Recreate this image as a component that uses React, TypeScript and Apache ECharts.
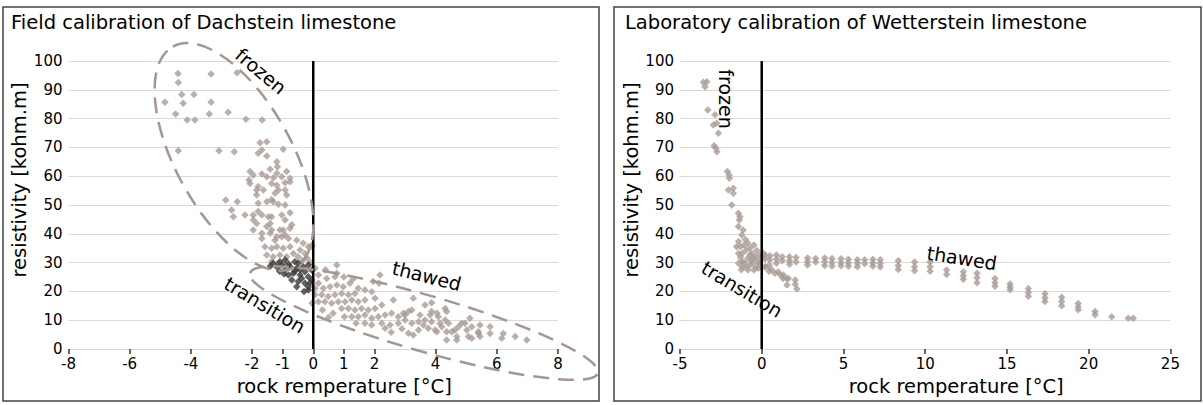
import React, { useEffect, useRef } from "react";
import * as echarts from "echarts";

// ---------- texts ----------
const panelTitles = [
  "Field calibration of Dachstein limestone",
  "Laboratory calibration of Wetterstein limestone",
];
const xAxisName = "rock remperature [°C]";
const yAxisName = "resistivity [kohm.m]";

// ---------- axes ----------
const dachsteinXTicks = [-8, -6, -4, -2, -1, 0, 1, 2, 4, 6, 8];
const dachsteinXRange = [-8, 8];
const wettersteinXRange = [-5, 25];
const wettersteinXStep = 5;
const resistivityRange = [0, 100];
const resistivityStep = 10;
const zeroLine = [
  [0, 0],
  [0, 100],
];

// ---------- Dachstein (field) ----------
const dachsteinFrozen = [
  [-4.42, 95.7], [-3.34, 95.5], [-2.49, 95.9], [-4.41, 92.5], [-4.3, 88.4], [-3.9, 88.4],
  [-4.85, 85.7], [-4.25, 85.3], [-3.34, 85.7], [-4.5, 81.6], [-3.4, 81.6], [-2.78, 82.2],
  [-4.12, 79.5], [-3.87, 79.5], [-2.2, 79.8], [-1.67, 79.5], [-4.41, 68.8], [-3.08, 68.8],
  [-2.58, 68.5], [-0.98, 69.4],
  [-1.74, 71.6], [-1.52, 72.0], [-1.68, 69.1], [-1.8, 68.0], [-1.52, 67.0], [-1.19, 65.0], [-1.17, 63.3],
  [-2.07, 61.6], [-1.96, 60.4], [-1.68, 60.8], [-1.41, 62.4], [-1.19, 61.0], [-0.87, 61.6], [-2.1, 58.7],
  [-0.76, 59.3], [-1.03, 59.8], [-1.52, 59.8], [-1.3, 59.5],
  [-1.8, 56.4], [-1.63, 55.2], [-1.19, 56.9], [-0.92, 57.7], [-2.07, 57.5], [-1.36, 57.5], [-0.76, 58.1],
  [-1.85, 55.2], [-1.14, 55.2], [-0.92, 55.2], [-1.25, 54.1], [-1.85, 53.5], [-0.87, 53.5],
  [-2.86, 51.7], [-2.48, 51.1], [-1.8, 50.6], [-1.52, 51.1], [-1.31, 51.1], [-1.14, 50.3], [-1.36, 51.9], [-0.92, 50.0],
  [-2.67, 48.3], [-1.8, 47.7], [-0.76, 47.3],
  [-2.61, 45.9], [-2.23, 46.5], [-1.96, 46.5], [-1.68, 46.5], [-1.47, 45.9], [-1.36, 45.9], [-1.03, 46.5],
  [-0.92, 44.8], [-1.96, 44.8], [-1.85, 43.6], [-1.41, 43.6], [-0.7, 43.1], [-1.52, 42.5],
  [-1.09, 41.3], [-1.96, 41.3], [-1.36, 41.3], [-0.98, 41.3], [-0.76, 41.9],
  [-1.68, 40.2], [-1.41, 40.2], [-1.19, 39.0], [-0.92, 39.6], [-1.03, 39.0],
  [-1.68, 38.4], [-1.25, 37.8], [-0.81, 38.4], [-0.54, 37.8],
  [-0.33, 36.7], [-0.16, 35.5], [-0.05, 35.5], [-0.04, 36.1],
  [-1.58, 35.5], [-1.36, 35.0], [-1.19, 35.5], [-0.98, 35.0], [-0.76, 35.5], [-0.43, 34.4],
  [-1.52, 32.6], [-1.31, 32.0], [-1.09, 32.6], [-0.87, 32.0], [-0.65, 33.2], [-0.27, 33.2], [-0.5, 32.0],
  [-1.36, 30.3], [-1.14, 29.8], [-0.92, 29.2], [-0.2, 31.5], [-0.1, 30.0], [-0.35, 30.8],
];
const dachsteinTransition = [
  [-1.19, 28.6], [-1.03, 29.2], [-0.92, 27.4], [-0.76, 28.6], [-0.65, 26.3], [-0.81, 25.7],
  [-0.54, 28.0], [-0.43, 25.7], [-0.33, 28.6], [-0.27, 26.8], [-0.16, 29.2], [-0.16, 25.1],
  [-0.7, 24.0], [-0.49, 23.4], [-0.27, 22.8], [-0.54, 21.6], [-0.16, 21.6], [-0.16, 20.5],
  [-0.38, 24.5], [-1.09, 30.3], [-0.92, 30.9], [-1.31, 29.8], [-0.05, 24.0], [-0.05, 27.4],
  [-0.6, 30.3], [-0.49, 29.8], [-1.1, 27.0], [-0.95, 26.0], [-0.3, 20.0], [-0.6, 27.0],
  [-0.1, 23.0], [-0.42, 27.5], [-0.8, 29.5], [-1.4, 28.8],
];
const dachsteinThawed = [
  [0.06, 28.0], [0.77, 29.2], [0.17, 25.7], [0.44, 24.5], [0.71, 25.1], [0.77, 26.3], [0.17, 22.8],
  [0.33, 21.1], [0.55, 21.6], [0.77, 22.2], [0.98, 21.6], [1.2, 22.8], [0.06, 21.1], [0.06, 18.8],
  [-0.04, 15.9], [0.28, 18.8], [0.49, 18.2], [0.71, 18.8], [0.93, 19.3], [1.15, 18.8], [1.36, 19.3],
  [1.47, 21.1], [1.69, 20.5], [1.91, 19.9], [0.17, 16.4], [0.38, 16.4], [0.6, 15.9], [0.82, 16.4],
  [1.04, 16.4], [1.26, 17.0], [1.47, 16.4], [1.69, 17.0], [2.02, 17.6], [2.24, 15.3], [2.62, 17.0],
  [1.96, 23.4], [2.18, 25.7], [2.15, 22.8], [0.93, 14.1], [1.15, 14.1], [1.36, 13.5], [1.58, 14.1],
  [1.8, 13.5], [2.02, 14.1], [0.65, 12.4], [1.02, 11.2], [1.26, 11.2], [1.47, 11.2], [1.69, 11.8],
  [1.91, 10.7], [2.13, 11.2], [2.35, 11.8], [2.56, 12.4], [2.78, 11.2], [3.0, 11.8], [3.27, 17.6],
  [3.65, 15.3], [3.87, 16.1], [3.87, 13.0], [3.22, 13.5], [1.4, 8.9], [1.69, 8.9], [1.91, 8.3],
  [2.24, 8.9], [2.51, 8.3], [2.35, 7.2], [2.78, 8.9], [3.0, 10.1], [3.22, 8.9], [3.44, 9.5],
  [3.65, 10.1], [3.87, 9.5], [4.09, 11.2], [4.31, 10.1], [3.44, 6.6], [3.76, 7.2], [3.98, 6.6],
  [3.11, 5.5], [3.27, 4.9], [4.2, 7.7], [4.53, 6.0], [4.75, 7.7], [4.96, 8.9], [5.18, 7.7],
  [5.4, 6.0], [4.69, 4.3], [5.07, 4.3], [2.95, 12.4], [3.11, 13.0], [3.49, 11.8], [3.82, 11.8],
  [4.04, 12.4], [4.31, 14.1], [4.36, 13.0], [3.6, 8.3], [4.14, 8.9], [4.42, 8.9], [4.85, 8.9],
  [5.12, 10.7], [5.45, 8.3], [5.78, 7.7], [4.04, 6.0], [4.36, 6.0], [4.63, 6.6], [5.02, 6.6],
  [5.4, 5.4], [5.78, 5.4], [4.36, 3.1], [4.69, 3.1], [5.18, 3.7], [5.45, 4.3], [6.21, 5.4],
  [6.16, 3.7], [6.6, 4.3], [6.98, 3.1], [0.4, 27.5], [1.0, 25.0], [1.3, 24.2], [0.3, 13.5],
  [0.5, 11.0], [2.55, 5.8], [2.9, 7.0],
];

// ---------- Wetterstein (laboratory) ----------
const wettersteinFrozen = [
  [-3.57, 92.6], [-3.36, 92.8], [-3.47, 91.1], [-3.3, 83.0], [-2.86, 81.3], [-2.96, 77.8],
  [-2.75, 78.4], [-2.65, 74.9], [-2.92, 70.6], [-2.8, 69.7], [-2.74, 68.5], [-2.1, 61.6],
  [-2.0, 60.4], [-1.98, 59.3], [-2.04, 55.2], [-1.74, 55.8], [-1.74, 54.1], [-1.83, 50.0],
  [-1.43, 47.1], [-1.33, 45.9], [-1.37, 44.8], [-1.43, 42.5], [-1.14, 41.3], [-1.22, 39.6],
];
const wettersteinTransition = [
  [-1.42, 37.3], [-1.3, 35.5], [-1.07, 36.1], [-0.95, 34.4], [-1.19, 33.2], [-0.72, 35.0],
  [-0.59, 33.2], [-0.36, 32.0], [-0.84, 31.5], [-1.19, 30.3], [-0.96, 28.6], [-0.59, 29.8],
  [-0.36, 28.6], [-0.13, 29.8], [0.0, 31.5], [0.11, 33.2], [-0.48, 27.4], [-0.84, 27.4],
  [-1.19, 28.6], [-1.42, 29.8], [-0.24, 30.3], [-0.48, 31.5], [-0.2, 28.0], [0.23, 28.6],
  [0.46, 29.2], [-1.42, 33.2], [-1.54, 35.5], [-0.48, 36.1], [-0.72, 32.6], [-1.0, 38.0],
  [-0.85, 36.8], [-1.3, 31.8], [-0.62, 30.8], [-0.3, 34.2], [-0.1, 32.6], [-1.05, 30.0],
  [-0.75, 29.0], [-1.25, 27.5],
  [0.2, 28.5], [0.45, 27.0], [0.6, 27.6], [0.8, 26.3], [1.0, 26.8], [1.15, 25.7], [1.3, 24.5],
  [1.32, 25.7], [1.52, 24.5], [1.55, 22.2], [1.63, 24.5], [2.05, 24.0], [2.05, 22.5], [2.15, 20.8],
];
const wettersteinThawed = [
  [0.2, 32.6], [0.2, 31.3], [0.5, 32.4], [0.5, 31.0], [0.9, 32.6], [0.9, 31.2], [0.9, 29.8],
  [1.25, 32.0], [1.25, 30.6], [1.7, 32.0], [1.7, 30.6], [1.7, 29.4], [2.1, 31.8], [2.1, 30.2],
  [2.8, 31.6], [2.8, 30.4], [2.8, 29.2], [3.3, 31.4], [3.3, 30.2], [3.85, 31.6], [3.85, 30.3],
  [3.85, 29.0], [4.3, 31.4], [4.3, 30.0], [4.3, 28.8], [4.85, 31.3], [4.85, 30.0], [4.85, 28.9],
  [5.3, 31.2], [5.3, 29.9], [5.3, 28.7], [5.85, 31.0], [5.85, 29.8], [5.85, 28.6], [6.3, 31.0],
  [6.3, 29.6], [6.8, 31.2], [6.8, 29.9], [6.8, 28.7], [7.25, 31.0], [7.25, 29.7], [7.25, 28.5],
  [8.35, 30.6], [8.35, 29.0], [8.35, 27.6], [9.35, 30.2], [9.35, 28.6], [9.35, 27.2],
  [10.3, 30.2], [10.3, 28.6], [10.3, 27.0],
  [11.31, 27.4], [11.31, 25.9], [12.33, 26.8], [12.33, 25.4], [12.33, 24.2], [13.17, 26.3],
  [13.17, 24.7], [13.17, 23.0], [14.27, 24.5], [14.27, 23.0], [14.27, 21.8], [15.19, 22.6],
  [15.19, 21.5], [15.19, 20.6], [16.31, 21.0], [16.31, 19.6], [16.31, 18.3], [17.33, 19.2],
  [17.33, 17.8], [17.33, 16.5], [18.35, 18.0], [18.35, 16.5], [18.35, 15.0], [19.36, 15.8],
  [19.36, 14.6], [19.36, 13.6], [20.39, 13.0], [20.39, 11.9], [21.41, 11.2], [22.42, 10.7],
  [22.73, 10.7],
];

// ---------- annotations (data coordinates of their centres) ----------
const zoneLabels = [
  { panel: 0, text: "frozen", x: -1.71, y: 96.5, angle: -40 },
  { panel: 0, text: "thawed", x: 3.71, y: 25.4, angle: -14 },
  { panel: 0, text: "transition", x: -1.58, y: 15.3, angle: -31 },
  { panel: 1, text: "frozen", x: -2.18, y: 86.8, angle: -90 },
  { panel: 1, text: "transition", x: -1.2, y: 20.8, angle: -31 },
  { panel: 1, text: "thawed", x: 12.25, y: 31.6, angle: -9 },
];
const zoneEllipses = [
  { panel: 0, x: -2.59, y: 66.7, rx: 126, ry: 58, angle: -61 },
  { panel: 0, x: 3.62, y: 9.0, rx: 181, ry: 28, angle: -16 },
];

const FONT = "DejaVu Sans";
const GRAY = "#a99b95";
const DARK = "#3a3a3a";
const DASH = "#a69690";

export default function App() {
  const ref = useRef<HTMLDivElement>(null);

  useEffect(() => {
    if (!ref.current) return;
    const chart = echarts.init(ref.current, null, { renderer: "svg" });

    const grids = [
      { left: 68.5, top: 61, width: 489.5, height: 288, outerBoundsMode: "none" },
      { left: 680, top: 61, width: 490.4, height: 288, outerBoundsMode: "none" },
    ];

    const axisLabel = { fontFamily: FONT, fontSize: 15, color: "#000" };
    const nameStyle = { fontFamily: FONT, fontSize: 19.5, color: "#000" };

    const xBase = (i: number) => ({
      type: "value",
      gridIndex: i,
      name: xAxisName,
      nameLocation: "middle",
      nameGap: 27,
      nameTextStyle: { ...nameStyle, padding: [0, 0, 0, 62] },
      axisLine: { show: false },
      splitLine: { show: false },
    });

    const xAxes = [
      {
        ...xBase(0),
        min: dachsteinXRange[0],
        max: dachsteinXRange[1],
        interval: 1,
        axisTick: {
          show: true,
          length: 5,
          customValues: dachsteinXTicks,
          lineStyle: { color: "#333", width: 1.5 },
        },
        axisLabel: { ...axisLabel, margin: 7, customValues: dachsteinXTicks },
      },
      {
        ...xBase(1),
        min: wettersteinXRange[0],
        max: wettersteinXRange[1],
        interval: wettersteinXStep,
        axisTick: { show: true, length: 5, lineStyle: { color: "#333", width: 1.5 } },
        axisLabel: { ...axisLabel, margin: 7 },
      },
    ];

    const yAxes = [0, 1].map((i) => ({
      type: "value",
      gridIndex: i,
      min: resistivityRange[0],
      max: resistivityRange[1],
      interval: resistivityStep,
      name: yAxisName,
      nameLocation: "middle",
      nameGap: 37,
      nameTextStyle: { ...nameStyle, padding: [0, 0, 0, 50] },
      axisLine: { show: false },
      axisTick: { show: false },
      axisLabel: { ...axisLabel, margin: 6 },
      splitLine: { show: true, lineStyle: { color: "#d9d9d9", width: 1 } },
    }));

    const scatter = (i: number, data: number[][], color: string, z = 2) => ({
      type: "scatter",
      xAxisIndex: i,
      yAxisIndex: i,
      data,
      symbol: "diamond",
      symbolSize: 7.5,
      itemStyle: { color },
      z,
    });
    const zero = (i: number) => ({
      type: "line",
      xAxisIndex: i,
      yAxisIndex: i,
      data: zeroLine,
      symbol: "none",
      lineStyle: { color: "#000", width: 2.5 },
      z: 6,
    });

    chart.setOption({
      animation: false,
      backgroundColor: "#fff",
      textStyle: { fontFamily: FONT },
      title: panelTitles.map((t, i) => ({
        text: t,
        left: i === 0 ? 11 : 625,
        top: 12,
        padding: 0,
        textStyle: { fontFamily: FONT, fontSize: 19.5, fontWeight: "normal", color: "#000" },
      })),
      grid: grids,
      xAxis: xAxes,
      yAxis: yAxes,
      series: [
        scatter(0, dachsteinFrozen, GRAY),
        scatter(0, dachsteinThawed, GRAY),
        scatter(0, dachsteinTransition, DARK, 3),
        zero(0),
        scatter(1, wettersteinFrozen, GRAY),
        scatter(1, wettersteinTransition, GRAY),
        scatter(1, wettersteinThawed, GRAY),
        zero(1),
      ],
    });

    const graphics: any[] = [
      {
        type: "rect",
        shape: { x: 3, y: 7, width: 596, height: 394 },
        style: { fill: "none", stroke: "#444", lineWidth: 1.5 },
        silent: true,
      },
      {
        type: "rect",
        shape: { x: 614, y: 7, width: 587, height: 394 },
        style: { fill: "none", stroke: "#444", lineWidth: 1.5 },
        silent: true,
      },
    ];
    zoneEllipses.forEach((e) => {
      const p = chart.convertToPixel({ gridIndex: e.panel }, [e.x, e.y]) as number[];
      graphics.push({
        type: "ellipse",
        x: p[0],
        y: p[1],
        rotation: (e.angle * Math.PI) / 180,
        shape: { cx: 0, cy: 0, rx: e.rx, ry: e.ry },
        style: { fill: "none", stroke: DASH, lineWidth: 2.5, lineDash: [16, 9] },
        z: 10,
        silent: true,
      });
    });
    zoneLabels.forEach((l) => {
      const p = chart.convertToPixel({ gridIndex: l.panel }, [l.x, l.y]) as number[];
      graphics.push({
        type: "text",
        x: p[0],
        y: p[1],
        rotation: (l.angle * Math.PI) / 180,
        style: {
          text: l.text,
          fontFamily: FONT,
          fontSize: 19,
          fill: "#000",
          align: "center",
          verticalAlign: "middle",
        },
        z: 11,
        silent: true,
      });
    });
    chart.setOption({ graphic: graphics });

    return () => chart.dispose();
  }, []);

  return (
    <div
      ref={ref}
      style={{ position: "fixed", left: 0, top: 0, width: 1203, height: 405 }}
    />
  );
}
